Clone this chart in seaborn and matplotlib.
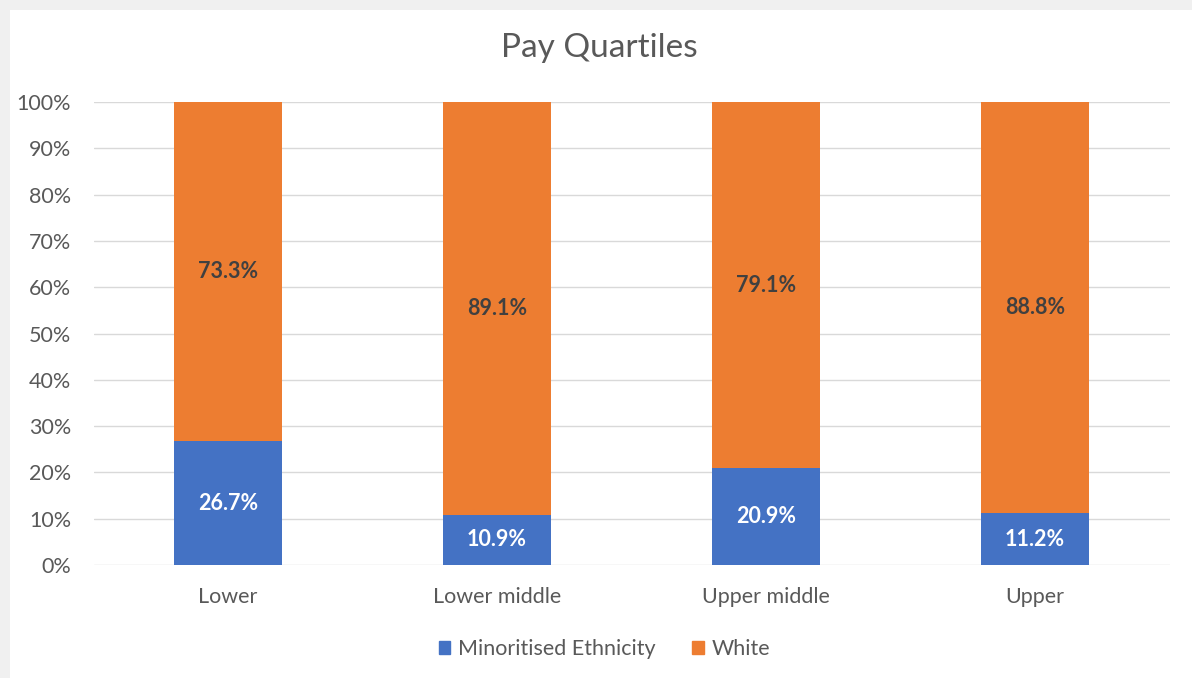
import matplotlib
matplotlib.use("Agg")
import matplotlib.pyplot as plt
import matplotlib.patches as mpatches
import seaborn as sns
import pandas as pd

categories = ["Lower", "Lower middle", "Upper middle", "Upper"]
minoritised = [26.7, 10.9, 20.9, 11.2]
white = [73.3, 89.1, 79.1, 88.8]
yticks = [0, 10, 20, 30, 40, 50, 60, 70, 80, 90, 100]

BLUE = "#4472C4"
ORANGE = "#ED7D31"
GRID = "#D9D9D9"
TXT = "#595959"

sns.set_theme(style="white")
plt.rcParams["font.family"] = ["Lato", "DejaVu Sans"]

df = pd.DataFrame({"cat": categories, "min": minoritised, "white": white})
df["total"] = df["min"] + df["white"]

fig = plt.figure(figsize=(11.92, 6.78), dpi=100)
fig.patch.set_facecolor("#F0F0F0")
bg = fig.add_axes([10 / 1192, 0, 1 - 10 / 1192, 1 - 10 / 678], zorder=-10)
bg.set_facecolor("white")
bg.set_xticks([])
bg.set_yticks([])
for s in bg.spines.values():
    s.set_visible(False)

ax = fig.add_axes([93.5 / 1192, 1 - 565 / 678, (1169.5 - 93.5) / 1192, (565 - 102) / 678])
ax.set_facecolor("none")

sns.barplot(data=df, x="cat", y="total", color=ORANGE, width=0.40, ax=ax,
            saturation=1, zorder=3, linewidth=0, edgecolor="none")
sns.barplot(data=df, x="cat", y="min", color=BLUE, width=0.40, ax=ax,
            saturation=1, zorder=4, linewidth=0, edgecolor="none")

ax.set_xlim(-0.5, 3.5)
ax.set_ylim(0, 100)
ax.set_yticks(yticks)
ax.set_yticklabels([f"{t}%" for t in yticks])
ax.yaxis.grid(True, color=GRID, linewidth=1, zorder=0)
ax.set_axisbelow(True)
for s in ax.spines.values():
    s.set_visible(False)
ax.tick_params(axis="y", length=0, pad=16, labelsize=15.5, labelcolor=TXT)
ax.tick_params(axis="x", length=0, pad=16, labelsize=15.5, labelcolor=TXT)
ax.set_xlabel("")
ax.set_ylabel("")

for i, (m, w) in enumerate(zip(minoritised, white)):
    ax.text(i, m / 2, f"{m:.1f}%", ha="center", va="center", color="white",
            fontsize=15.5, fontweight="bold", zorder=5)
    ax.text(i, m + w / 2, f"{w:.1f}%", ha="center", va="center", color="#404040",
            fontsize=15.5, fontweight="bold", zorder=5)

fig.text(0.503, 1 - 48 / 678, "Pay Quartiles", ha="center", va="center",
         fontsize=24, color=TXT)

handles = [mpatches.Patch(color=BLUE, label="Minoritised Ethnicity"),
           mpatches.Patch(color=ORANGE, label="White")]
fig.legend(handles=handles, loc="center", bbox_to_anchor=(0.507, 1 - 649 / 678),
           ncol=2, frameon=False, handlelength=0.55, handleheight=0.55,
           handletextpad=0.35, columnspacing=1.7, fontsize=15.5, labelcolor=TXT)

fig.savefig("out.png", dpi=100, facecolor=fig.get_facecolor())
